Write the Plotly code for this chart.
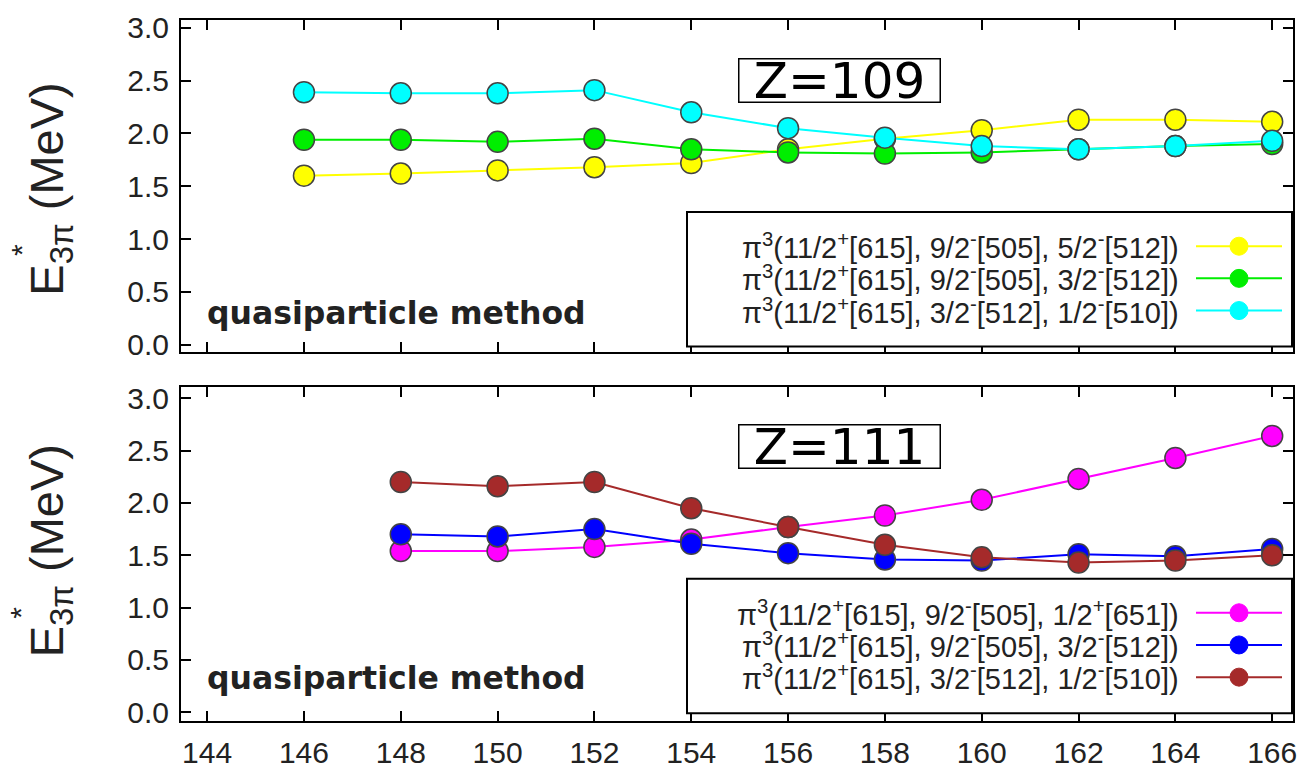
import plotly.graph_objects as go

# Neutron numbers
n109 = [146, 148, 150, 152, 154, 156, 158, 160, 162, 164, 166]
n111 = [148, 150, 152, 154, 156, 158, 160, 162, 164, 166]

# Z=109 three-quasiproton excitation energies (MeV)
e109_a = [1.60, 1.62, 1.65, 1.68, 1.72, 1.85, 1.95, 2.03, 2.13, 2.13, 2.11]
e109_b = [1.94, 1.94, 1.92, 1.95, 1.85, 1.82, 1.81, 1.82, 1.85, 1.88, 1.90]
e109_c = [2.39, 2.38, 2.38, 2.41, 2.20, 2.05, 1.96, 1.88, 1.85, 1.88, 1.93]

# Z=111 three-quasiproton excitation energies (MeV)
e111_a = [1.54, 1.54, 1.58, 1.65, 1.77, 1.88, 2.03, 2.23, 2.43, 2.64]
e111_b = [1.70, 1.68, 1.75, 1.61, 1.52, 1.46, 1.45, 1.51, 1.49, 1.56]
e111_c = [2.20, 2.16, 2.20, 1.95, 1.77, 1.60, 1.48, 1.43, 1.45, 1.50]

labels109 = [
    "π<sup>3</sup>(11/2<sup>+</sup>[615], 9/2<sup>-</sup>[505], 5/2<sup>-</sup>[512])",
    "π<sup>3</sup>(11/2<sup>+</sup>[615], 9/2<sup>-</sup>[505], 3/2<sup>-</sup>[512])",
    "π<sup>3</sup>(11/2<sup>+</sup>[615], 3/2<sup>-</sup>[512], 1/2<sup>-</sup>[510])",
]
labels111 = [
    "π<sup>3</sup>(11/2<sup>+</sup>[615], 9/2<sup>-</sup>[505], 1/2<sup>+</sup>[651])",
    "π<sup>3</sup>(11/2<sup>+</sup>[615], 9/2<sup>-</sup>[505], 3/2<sup>-</sup>[512])",
    "π<sup>3</sup>(11/2<sup>+</sup>[615], 3/2<sup>-</sup>[512], 1/2<sup>-</sup>[510])",
]
colors109 = ["#ffff00", "#00ee00", "#00ffff"]
colors111 = ["#ff00ff", "#0000ff", "#a52a2a"]

xticks = list(range(144, 167, 2))
yticks = [0.0, 0.5, 1.0, 1.5, 2.0, 2.5, 3.0]

FONT = "Arial, Liberation Sans, sans-serif"
WIDE = "DejaVu Sans, Arial, sans-serif"
W, H = 1309, 781
L, R, T, B = 181, 1293, 17, 736


def px(x):
    return (x - L) / (R - L)


def py(y):
    return (B - y) / (B - T)


fig = go.Figure()

for ys, col, name in zip([e109_a, e109_b, e109_c], colors109, labels109):
    fig.add_trace(go.Scatter(
        x=n109, y=ys, mode="lines+markers", name=name, xaxis="x", yaxis="y",
        line=dict(color=col, width=2),
        marker=dict(size=21, color=col, line=dict(color="#444444", width=1.5)),
        showlegend=False))

for ys, col, name in zip([e111_a, e111_b, e111_c], colors111, labels111):
    fig.add_trace(go.Scatter(
        x=n111, y=ys, mode="lines+markers", name=name, xaxis="x2", yaxis="y2",
        line=dict(color=col, width=2),
        marker=dict(size=21, color=col, line=dict(color="#444444", width=1.5)),
        showlegend=False))

axis_common = dict(
    showline=True, linecolor="black", linewidth=2, mirror="ticks",
    ticks="inside", ticklen=10, tickwidth=2, tickcolor="black",
    showgrid=False, zeroline=False,
    tickfont=dict(family=FONT, size=30, color="#222222"),
)

top_dom = [py(358), 1.0]
bot_dom = [0.0, py(393)]

fig.update_layout(
    width=W, height=H,
    margin=dict(l=L, r=W - R, t=T, b=H - B),
    paper_bgcolor="white", plot_bgcolor="white",
    xaxis=dict(axis_common, domain=[0, 1], anchor="y", range=[143.46, 166.43],
               tickvals=xticks, showticklabels=False),
    yaxis=dict(axis_common, domain=top_dom, anchor="x", range=[-0.074, 3.074],
               tickvals=yticks, tickformat=".1f", ticklabelstandoff=4),
    xaxis2=dict(axis_common, domain=[0, 1], anchor="y2", range=[143.46, 166.43],
                tickvals=xticks, ticklabelstandoff=4),
    yaxis2=dict(axis_common, domain=bot_dom, anchor="x2", range=[-0.084, 3.112],
                tickvals=yticks, tickformat=".1f", ticklabelstandoff=4),
    showlegend=False,
)

annotations = []
shapes = []

# Panel tags
for txt, yc in [("Z=109", 79), ("Z=111", 454)]:
    annotations.append(dict(
        text=txt, xref="paper", yref="paper", x=px(839), y=py(yc),
        xanchor="center", yanchor="middle", showarrow=False,
        font=dict(family=WIDE, size=50, color="black"),
        bordercolor="black", borderwidth=1.5, borderpad=0, bgcolor="white",
        width=200, height=42))

# Method note
for yc in [318, 692]:
    annotations.append(dict(
        text="<b>quasiparticle method</b>", xref="paper", yref="paper",
        x=px(205), y=py(yc), xanchor="left", yanchor="middle", showarrow=False,
        font=dict(family=WIDE, size=31.5, color="#222222")))

# Vertical axis titles: E*_{3π} (MeV), star stacked over the subscript
for yc, ystar in [(191, 253), (562, 625)]:
    annotations.append(dict(
        text="E<sub>3π</sub> (MeV)", xref="paper", yref="paper",
        x=px(50), y=py(yc), xanchor="center", yanchor="middle", textangle=-90,
        showarrow=False, font=dict(family=FONT, size=47, color="#222222")))
    annotations.append(dict(
        text="*", xref="paper", yref="paper",
        x=px(21), y=py(ystar), xanchor="center", yanchor="middle",
        textangle=-90, showarrow=False,
        font=dict(family=FONT, size=30, color="#222222")))

# Legend panels
for labels, cols, rows, box in [
    (labels109, colors109, [249, 282, 315], (687, 214, 352)),
    (labels111, colors111, [625, 658, 691], (687, 590, 728)),
]:
    x0, y0, y1 = box
    shapes.append(dict(type="rect", xref="paper", yref="paper",
                       x0=px(x0), x1=px(R - 1), y0=py(y1), y1=py(y0),
                       line=dict(color="black", width=2), fillcolor="white",
                       layer="above"))
    for lab, col, yr in zip(labels, cols, rows):
        annotations.append(dict(
            text=lab, xref="paper", yref="paper", x=px(1181), y=py(yr),
            xanchor="right", yanchor="middle", showarrow=False,
            font=dict(family=FONT, size=29, color="#222222")))
        shapes.append(dict(type="line", xref="paper", yref="paper",
                           x0=px(1196), x1=px(1282), y0=py(yr), y1=py(yr),
                           line=dict(color=col, width=2), layer="above"))
        shapes.append(dict(type="circle", xref="paper", yref="paper",
                           xsizemode="pixel", ysizemode="pixel",
                           xanchor=px(1239), yanchor=py(yr),
                           x0=-9, x1=9, y0=-9, y1=9,
                           line=dict(color=col, width=1), fillcolor=col,
                           layer="above"))

fig.update_layout(annotations=annotations, shapes=shapes)

fig.write_html("out.html")
